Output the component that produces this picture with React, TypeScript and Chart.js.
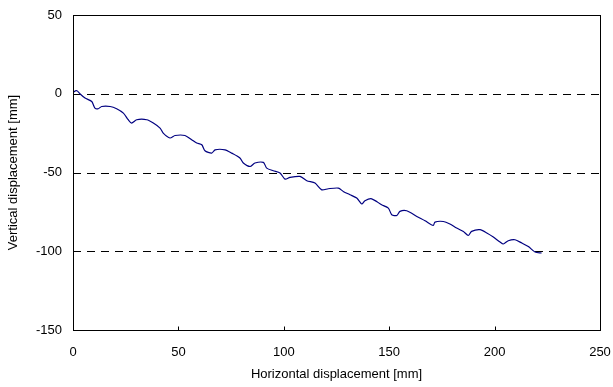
import React, { useEffect, useRef } from "react";
import { Chart, registerables } from "chart.js";

Chart.register(...registerables);

const xValues = [0, 0.5, 1.9, 3.3, 5.7, 8.9, 10.4, 12.0, 13.6, 17.6, 20.7, 23.9, 26.2, 27.8, 30.2, 35.0, 38.1, 41.3, 42.8, 46.0, 48.4, 53.1, 56.3, 58.7, 61.1, 62.6, 65.8, 67.4, 72.1, 75.3, 79.2, 80.8, 84.0, 86.3, 90.3, 91.9, 95.0, 98.2, 100.6, 102.9, 107.7, 110.9, 114.8, 118.0, 121.1, 125.9, 128.2, 131.4, 134.6, 137.0, 138.5, 141.7, 146.4, 149.6, 151.2, 153.6, 155.1, 158.3, 163.1, 167.0, 170.9, 171.7, 175.7, 178.8, 182.0, 185.2, 187.5, 189.1, 193.1, 196.3, 199.4, 202.6, 204.1, 206.5, 209.7, 212.9, 216.0, 219.2, 222.3];
const yValues = [0, 1.3, 1.9, 0, -2.7, -4.9, -9.1, -9.5, -8.1, -8.1, -9.5, -12.3, -16.5, -18.6, -16.5, -16.5, -18.6, -21.8, -25.0, -28.1, -26.5, -26.5, -29.2, -31.3, -32.4, -36.2, -37.7, -35.6, -35.6, -37.7, -40.8, -44.0, -46.2, -44.0, -43.6, -47.2, -48.9, -50.3, -54.2, -53.1, -52.5, -55.2, -56.7, -61.0, -60.3, -59.9, -62.0, -64.1, -66.2, -70.0, -67.9, -66.7, -70.5, -72.6, -76.8, -77.3, -74.7, -74.3, -77.9, -80.6, -83.6, -81.5, -81.1, -82.7, -85.3, -87.4, -90.0, -87.4, -86.3, -88.4, -91.0, -94.2, -95.4, -93.3, -92.7, -94.8, -97.0, -100.5, -101.1];

const xTicks = [0, 50, 100, 150, 200, 250];
const yTicks = [50, 0, -50, -100, -150];
const dashedLevels = [0, -50, -100];

const xTitle = "Horizontal displacement [mm]";
const yTitle = "Vertical displacement [mm]";

const FONT = "'Liberation Sans', Arial, sans-serif";

const framePlugin = {
  id: "frame",
  beforeDatasetsDraw(chart: any) {
    const { ctx, chartArea } = chart;
    const ys = chart.scales.y;
    ctx.save();
    ctx.strokeStyle = "#000";
    ctx.lineWidth = 1;
    ctx.setLineDash([8, 6]);
    dashedLevels.forEach((v) => {
      const py = Math.round(ys.getPixelForValue(v)) + 0.5;
      ctx.beginPath();
      ctx.moveTo(chartArea.left, py);
      ctx.lineTo(chartArea.right, py);
      ctx.stroke();
    });
    ctx.restore();
  },
  afterDraw(chart: any) {
    const { ctx, chartArea } = chart;
    const xs = chart.scales.x;
    ctx.save();
    ctx.strokeStyle = "#000";
    ctx.lineWidth = 1;
    ctx.setLineDash([]);
    const l = Math.round(chartArea.left) + 0.5;
    const r = Math.round(chartArea.right) + 0.5;
    const t = Math.round(chartArea.top) + 0.5;
    const b = Math.round(chartArea.bottom) + 0.5;
    ctx.strokeRect(l, t, r - l, b - t);
    xTicks.slice(1, -1).forEach((v) => {
      const px = Math.round(xs.getPixelForValue(v)) + 0.5;
      ctx.beginPath();
      ctx.moveTo(px, b);
      ctx.lineTo(px, b - 4);
      ctx.stroke();
    });
    ctx.restore();
  },
};

export default function App() {
  const ref = useRef<HTMLCanvasElement>(null);
  useEffect(() => {
    document.body.style.margin = "0";
    const points = xValues.map((x, i) => ({ x, y: yValues[i] }));
    const chart = new Chart(ref.current as HTMLCanvasElement, {
      type: "line",
      data: {
        datasets: [
          {
            data: points,
            borderColor: "#000080",
            borderWidth: 1.2,
            pointRadius: 0,
            tension: 0.25,
            fill: false,
          },
        ],
      },
      options: {
        animation: false,
        responsive: false,
        devicePixelRatio: 1,
        layout: { padding: { left: 0, right: 13, top: 15, bottom: 0 } },
        plugins: { legend: { display: false }, tooltip: { enabled: false } },
        scales: {
          x: {
            type: "linear",
            min: 0,
            max: 250,
            afterBuildTicks(scale: any) {
              scale.ticks = xTicks.map((v) => ({ value: v }));
            },
            afterFit(scale: any) {
              scale.height = 57;
              scale.paddingLeft = 0;
              scale.paddingRight = 0;
            },
            grid: { display: false, drawTicks: false },
            border: { display: false },
            ticks: {
              padding: 15,
              color: "#000",
              font: { family: FONT, size: 13 },
              maxRotation: 0,
              autoSkip: false,
            },
            title: {
              display: true,
              text: xTitle,
              color: "#000",
              font: { family: FONT, size: 13 },
              padding: { top: 0, bottom: 5 },
            },
          },
          y: {
            type: "linear",
            min: -150,
            max: 50,
            afterBuildTicks(scale: any) {
              scale.ticks = yTicks.map((v) => ({ value: v }));
            },
            afterFit(scale: any) {
              scale.width = 73;
              scale.paddingTop = 0;
              scale.paddingBottom = 0;
            },
            grid: { display: false, drawTicks: false },
            border: { display: false },
            ticks: {
              padding: 11,
              color: "#000",
              font: { family: FONT, size: 13 },
              autoSkip: false,
            },
            title: {
              display: true,
              text: yTitle,
              color: "#000",
              font: { family: FONT, size: 13 },
              padding: { top: 6, bottom: 0 },
            },
          },
        },
      },
      plugins: [framePlugin],
    });
    return () => chart.destroy();
  }, []);
  return (
    <div style={{ position: "absolute", left: 0, top: 0, width: 613, height: 387 }}>
      <canvas ref={ref} width={613} height={387} style={{ width: 613, height: 387 }} />
    </div>
  );
}
